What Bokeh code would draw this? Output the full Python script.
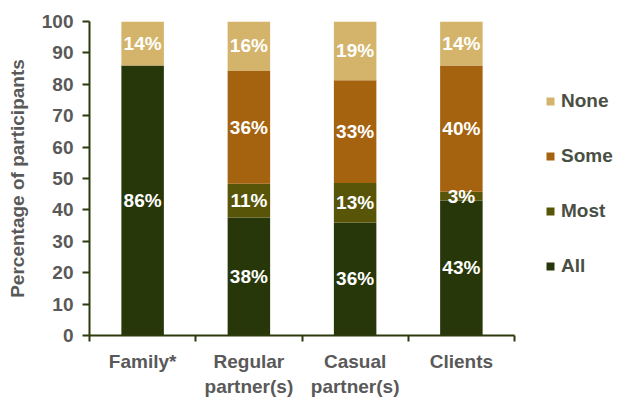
from bokeh.plotting import figure
from bokeh.models import (Range1d, FixedTicker, Legend, LegendItem, ColumnDataSource)
from bokeh.core.properties import value
from bokeh.embed import file_html
from bokeh.resources import INLINE

# ---- data ----
categories = ["Family*", "Regular\npartner(s)", "Casual\npartner(s)", "Clients"]
series = ["All", "Most", "Some", "None"]
all_vals = [86.0, 37.6, 36.0, 43.0]
most_vals = [0.0, 10.7, 12.6, 2.8]
some_vals = [0.0, 36.1, 32.7, 40.2]
none_vals = [14.0, 15.6, 18.7, 14.0]
all_labels = ["86%", "38%", "36%", "43%"]
most_labels = ["", "11%", "13%", "3%"]
some_labels = ["", "36%", "33%", "40%"]
none_labels = ["14%", "16%", "19%", "14%"]
y_ticks = list(range(0, 101, 10))

colors = {"All": "#283709", "Most": "#585508", "Some": "#a5620f", "None": "#d3b46a"}
FONT = "Liberation Sans"
TEXT_COLOR = "#595959"
AXIS_COLOR = "#2d3a0e"

vals = {"All": all_vals, "Most": most_vals, "Some": some_vals, "None": none_vals}
labs = {"All": all_labels, "Most": most_labels, "Some": some_labels, "None": none_labels}

n = len(categories)
centres = [i + 0.5 for i in range(n)]          # category slots on the x scale
data = {"x": centres, "cat": categories}
data.update(vals)
source = ColumnDataSource(data)

# frame extends to the right edge so the legend can sit inside it (425 px for the 4 categories)
x_end = n * 528 / 425

p = figure(x_range=Range1d(0, x_end), y_range=Range1d(0, 100),
           width=617, height=399, output_backend="svg", toolbar_location=None,
           min_border_left=89, min_border_right=0, min_border_top=21, min_border_bottom=63)
p.outline_line_color = None
p.xgrid.grid_line_color = None
p.ygrid.grid_line_color = None
p.background_fill_color = "white"
p.border_fill_color = "white"

renderers = p.vbar_stack(series, x="x", width=0.4, source=source,
                         color=[colors[s] for s in series], line_color=None)
rmap = dict(zip(series, renderers))

# ---- value labels at segment centres ----
lx, ly, lt = [], [], []
for i in range(n):
    bottom = 0.0
    for s in series:
        v = vals[s][i]
        if labs[s][i]:
            lx.append(centres[i])
            ly.append(bottom + v / 2)
            lt.append(labs[s][i])
        bottom += v
p.text(x=lx, y=ly, text=lt, text_align="center", text_baseline="middle",
       text_color="white", text_font=value(FONT), text_font_style="bold",
       text_font_size="19px")

# ---- y axis ----
ya = p.yaxis[0]
ya.ticker = FixedTicker(ticks=y_ticks)
ya.axis_label = "Percentage of participants"
ya.axis_label_text_font = FONT
ya.axis_label_text_font_style = "bold"
ya.axis_label_text_font_size = "19px"
ya.axis_label_text_color = TEXT_COLOR
ya.axis_label_standoff = 11
ya.major_label_text_font = FONT
ya.major_label_text_font_style = "bold"
ya.major_label_text_font_size = "19px"
ya.major_label_text_color = TEXT_COLOR
ya.major_label_standoff = 9
ya.major_tick_in = 0
ya.major_tick_out = 7
ya.minor_tick_line_color = None
ya.axis_line_color = AXIS_COLOR
ya.axis_line_width = 2
ya.major_tick_line_color = AXIS_COLOR
ya.major_tick_line_width = 2

# ---- x axis: category names centred, tick marks at category boundaries ----
xa = p.xaxis[0]
xa.bounds = (0, n)
xa.ticker = FixedTicker(ticks=centres, minor_ticks=list(range(n + 1)))
xa.major_label_overrides = {c: lab for c, lab in zip(centres, categories)}
xa.major_tick_line_color = None
xa.major_tick_out = 0
xa.major_tick_in = 0
xa.minor_tick_out = 6
xa.minor_tick_in = 0
xa.minor_tick_line_color = AXIS_COLOR
xa.minor_tick_line_width = 2
xa.axis_line_color = AXIS_COLOR
xa.axis_line_width = 2
xa.major_label_text_font = FONT
xa.major_label_text_font_style = "bold"
xa.major_label_text_font_size = "19px"
xa.major_label_text_color = TEXT_COLOR
xa.major_label_standoff = 9

# ---- legend ----
items = [LegendItem(label=s, renderers=[rmap[s]]) for s in ["None", "Some", "Most", "All"]]
legend = Legend(items=items, location=(456, 58), glyph_width=10, glyph_height=10,
                label_standoff=6, spacing=33, padding=0, margin=0,
                border_line_color=None, background_fill_alpha=0,
                label_text_font=FONT, label_text_font_style="bold",
                label_text_font_size="19px", label_text_color="#4a4f44")
p.add_layout(legend)

open("out.html", "w").write(file_html(p, INLINE))
